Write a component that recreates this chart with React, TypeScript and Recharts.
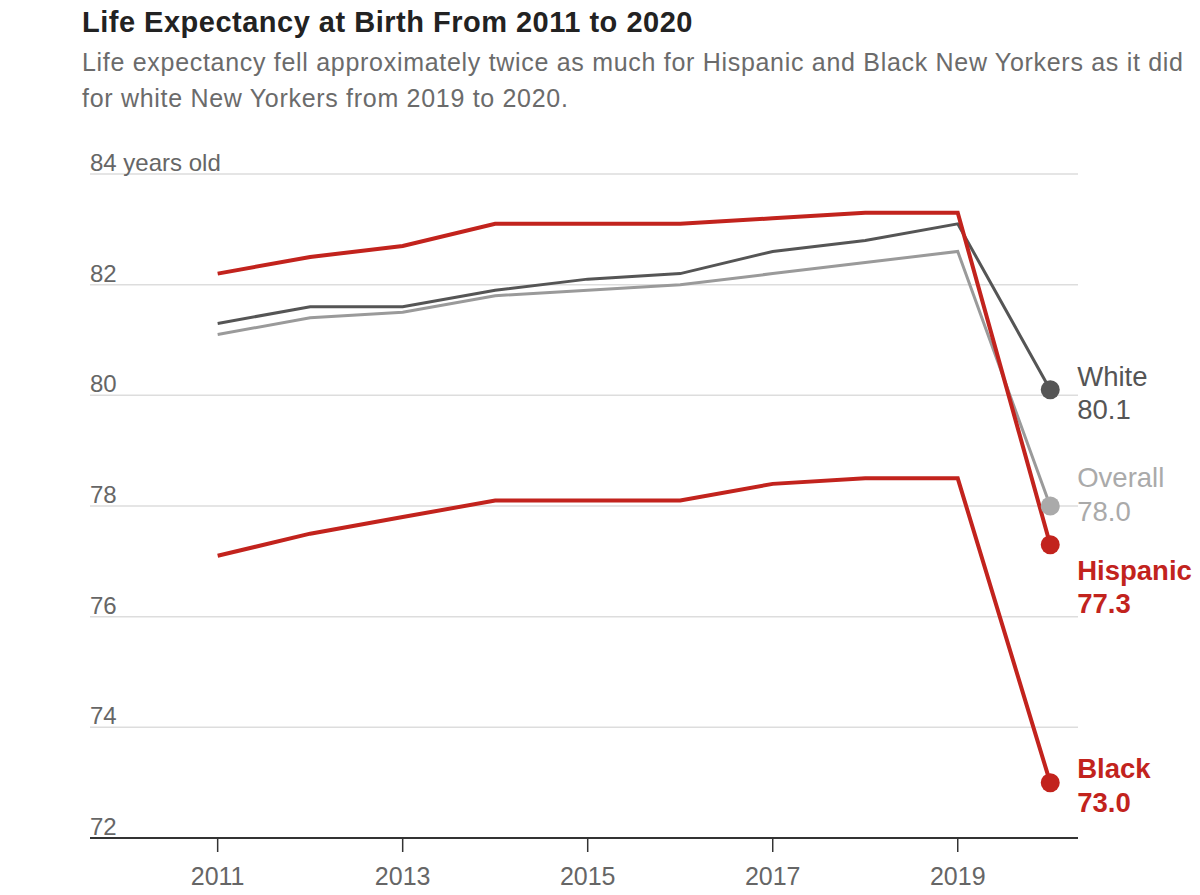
import React from "react";
import { LineChart, Line, XAxis, YAxis, CartesianGrid } from "recharts";

// Life expectancy at birth, New York City
const years = [2011, 2012, 2013, 2014, 2015, 2016, 2017, 2018, 2019, 2020];
const hispanic = [82.2, 82.5, 82.7, 83.1, 83.1, 83.1, 83.2, 83.3, 83.3, 77.3];
const white = [81.3, 81.6, 81.6, 81.9, 82.1, 82.2, 82.6, 82.8, 83.1, 80.1];
const overall = [81.1, 81.4, 81.5, 81.8, 81.9, 82.0, 82.2, 82.4, 82.6, 78.0];
const black = [77.1, 77.5, 77.8, 78.1, 78.1, 78.1, 78.4, 78.5, 78.5, 73.0];

const xTicks = [2011, 2013, 2015, 2017, 2019];
const yTicks = [72, 74, 76, 78, 80, 82, 84];

const RED = "#c2231d";
const FONT = "'Liberation Sans', Arial, sans-serif";

const chartData = years.map((year, i) => ({
  year,
  hispanic: hispanic[i],
  white: white[i],
  overall: overall[i],
  black: black[i],
}));

// drawing order: red lines on top
const SERIES = [
  { key: "overall", name: "Overall", line: "#9a9a9a", dot: "#aaaaaa", text: "#aaaaaa", width: 3, bold: false, dy: [-19, 15] },
  { key: "white", name: "White", line: "#555555", dot: "#555555", text: "#555555", width: 3, bold: false, dy: [-4, 29] },
  { key: "black", name: "Black", line: RED, dot: RED, text: RED, width: 4, bold: true, dy: [-5, 29] },
  { key: "hispanic", name: "Hispanic", line: RED, dot: RED, text: RED, width: 4, bold: true, dy: [35, 68] },
];

const last = years.length - 1;

function endDot(s: (typeof SERIES)[number]) {
  return (props: any) => {
    const { cx, cy, index, value } = props;
    if (index !== last) return <g key={`d-${s.key}-${index}`} />;
    return (
      <g key={`d-${s.key}-${index}`}>
        <circle cx={cx} cy={cy} r={9.5} fill={s.dot} />
        <text
          x={cx + 27}
          y={cy}
          fill={s.text}
          fontSize={27.5}
          fontWeight={s.bold ? 700 : 400}
          fontFamily={FONT}
        >
          <tspan x={cx + 27} y={cy + s.dy[0]}>{s.name}</tspan>
          <tspan x={cx + 27} y={cy + s.dy[1]}>{Number(value).toFixed(1)}</tspan>
        </text>
      </g>
    );
  };
}

const renderYTick = (props: any) => {
  const { x, y, payload } = props;
  const label = payload.value === 84 ? "84 years old" : String(payload.value);
  return (
    <text key={`yt-${payload.value}`} x={x} y={y - 3} fill="#666" fontSize={24} fontFamily={FONT} textAnchor="start">
      {label}
    </text>
  );
};

export default function App() {
  return (
    <div
      style={{
        position: "absolute",
        left: 0,
        top: 0,
        width: 1200,
        height: 895,
        background: "#fff",
        fontFamily: FONT,
      }}
    >
      <div
        style={{
          position: "absolute",
          left: 82,
          top: 6,
          fontSize: 29,
          lineHeight: "32px",
          fontWeight: 700,
          letterSpacing: 0.5,
          color: "#222",
          whiteSpace: "nowrap",
        }}
      >
        Life Expectancy at Birth From 2011 to 2020
      </div>
      <div
        style={{
          position: "absolute",
          left: 82,
          top: 44,
          fontSize: 25,
          lineHeight: "36px",
          letterSpacing: 0.7,
          color: "#6b6b6b",
          whiteSpace: "nowrap",
        }}
      >
        Life expectancy fell approximately twice as much for Hispanic and Black New Yorkers as it did
        <br />
        for white New Yorkers from 2019 to 2020.
      </div>
      <div style={{ position: "absolute", left: 0, top: 0 }}>
        <LineChart
          width={1200}
          height={895}
          data={chartData}
          margin={{ top: 174, right: 122, bottom: 7, left: 0 }}
        >
          <CartesianGrid vertical={false} stroke="#dddddd" strokeWidth={1.5} />
          <XAxis
            dataKey="year"
            type="number"
            domain={[2009.62, 2020.3]}
            ticks={xTicks}
            height={50}
            axisLine={{ stroke: "#333", strokeWidth: 2 }}
            tickLine={{ stroke: "#333", strokeWidth: 1.5 }}
            tickSize={14}
            tickMargin={15}
            tick={{ fill: "#666", fontSize: 25, fontFamily: FONT }}
          />
          <YAxis
            type="number"
            domain={[72, 84]}
            ticks={yTicks}
            interval={0}
            width={90}
            axisLine={false}
            tickLine={false}
            tickSize={0}
            tickMargin={0}
            tick={renderYTick}
          />
          {SERIES.map((s) => (
            <Line
              key={s.key}
              type="linear"
              dataKey={s.key}
              stroke={s.line}
              strokeWidth={s.width}
              dot={endDot(s)}
              activeDot={false}
              isAnimationActive={false}
            />
          ))}
        </LineChart>
      </div>
    </div>
  );
}
